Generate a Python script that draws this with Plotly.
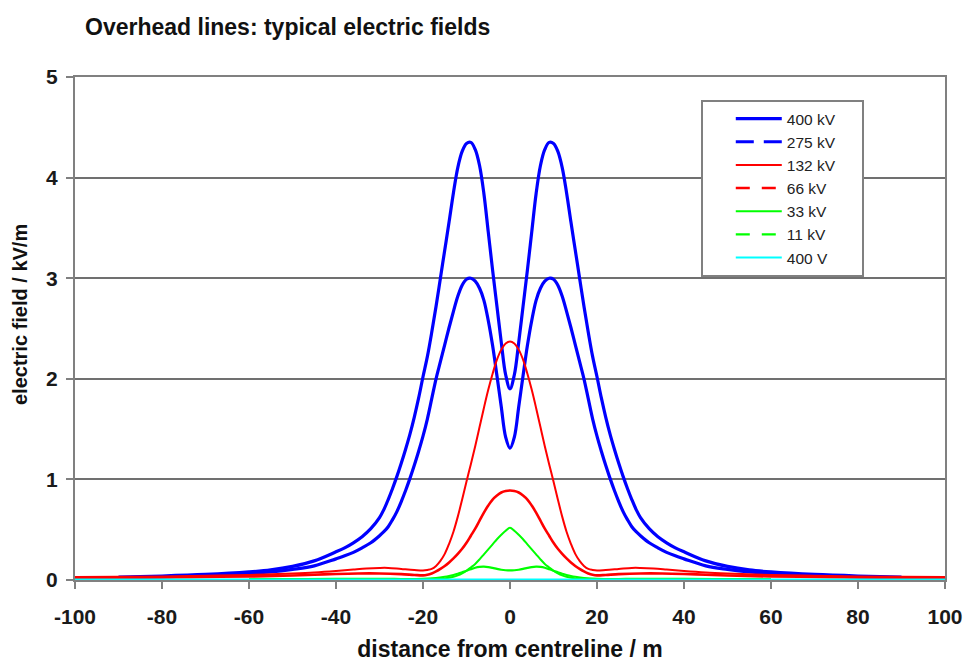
import plotly.graph_objects as go

# ---- data ----
x_hv = [-90, -80, -70, -60, -55, -50, -45, -40, -38, -36, -34, -32, -30, -29, -28, -27, -26, -25, -24, -23, -22, -21,
        -20, -19, -18, -17, -16, -15, -14, -13, -12, -11, -10, -9, -8, -7, -6, -5, -4, -3, -2, -1,
        0, 1, 2, 3, 4, 5, 6, 7, 8, 9, 10, 11, 12, 13, 14, 15, 16, 17, 18, 19, 20,
        21, 22, 23, 24, 25, 26, 27, 28, 29, 30, 32, 34, 36, 38, 40, 45, 50, 55, 60, 70, 80, 90]
e_400kv = [0.03, 0.04, 0.055, 0.08, 0.10, 0.135, 0.19, 0.28, 0.32, 0.37, 0.43, 0.51, 0.62, 0.70, 0.80, 0.91, 1.03, 1.16, 1.30, 1.45, 1.62, 1.81,
           2.02, 2.22, 2.46, 2.72, 3.00, 3.28, 3.56, 3.85, 4.10, 4.26, 4.34, 4.35, 4.28, 4.12, 3.84, 3.46, 3.08, 2.72, 2.36, 2.04,
           1.90, 2.04, 2.36, 2.72, 3.08, 3.46, 3.84, 4.12, 4.28, 4.35, 4.34, 4.26, 4.10, 3.85, 3.56, 3.28, 3.00, 2.72, 2.46, 2.22, 2.02,
           1.81, 1.62, 1.45, 1.30, 1.16, 1.03, 0.91, 0.80, 0.70, 0.62, 0.51, 0.43, 0.37, 0.32, 0.28, 0.19, 0.135, 0.10, 0.08, 0.055, 0.04, 0.03]
e_275kv = [0.022, 0.032, 0.045, 0.066, 0.08, 0.105, 0.14, 0.21, 0.24, 0.275, 0.32, 0.37, 0.44, 0.48, 0.53, 0.60, 0.68, 0.78, 0.89, 1.01, 1.14, 1.28,
           1.43, 1.60, 1.80, 2.00, 2.17, 2.34, 2.51, 2.67, 2.82, 2.93, 2.99, 3.00, 2.97, 2.90, 2.78, 2.58, 2.33, 2.03, 1.72, 1.42,
           1.31, 1.42, 1.72, 2.03, 2.33, 2.58, 2.78, 2.90, 2.97, 3.00, 2.99, 2.93, 2.82, 2.67, 2.51, 2.34, 2.17, 2.00, 1.80, 1.60, 1.43,
           1.28, 1.14, 1.01, 0.89, 0.78, 0.68, 0.60, 0.53, 0.48, 0.44, 0.37, 0.32, 0.275, 0.24, 0.21, 0.14, 0.105, 0.08, 0.066, 0.045, 0.032, 0.022]

x_132 = [-100, -90, -80, -70, -60, -50, -45, -40, -36, -33, -30, -28, -25, -22,
         -20, -19, -18, -17, -16, -15, -14, -13, -12, -11, -10, -9, -8, -7, -6, -5, -4, -3, -2, -1,
         0, 1, 2, 3, 4, 5, 6, 7, 8, 9, 10, 11, 12, 13, 14, 15, 16, 17, 18, 19, 20,
         22, 25, 28, 30, 33, 36, 40, 45, 50, 60, 70, 80, 90, 100]
e_132kv = [0.03, 0.032, 0.036, 0.042, 0.05, 0.065, 0.075, 0.09, 0.105, 0.115, 0.12, 0.12, 0.11, 0.10,
           0.095, 0.10, 0.11, 0.14, 0.19, 0.26, 0.36, 0.48, 0.63, 0.80, 0.98, 1.15, 1.33, 1.52, 1.71, 1.89, 2.05, 2.19, 2.29, 2.35,
           2.37, 2.35, 2.29, 2.19, 2.05, 1.89, 1.71, 1.52, 1.33, 1.15, 0.98, 0.80, 0.63, 0.48, 0.36, 0.26, 0.19, 0.14, 0.11, 0.10, 0.095,
           0.10, 0.11, 0.12, 0.12, 0.115, 0.105, 0.09, 0.075, 0.065, 0.05, 0.042, 0.036, 0.032, 0.03]

x_66 = [-100, -90, -80, -70, -60, -50, -45, -40, -35, -30, -25, -22,
        -20, -19, -18, -17, -16, -15, -14, -13, -12, -11, -10, -9, -8, -7, -6, -5, -4, -3, -2, -1,
        0, 1, 2, 3, 4, 5, 6, 7, 8, 9, 10, 11, 12, 13, 14, 15, 16, 17, 18, 19, 20,
        22, 25, 30, 35, 40, 45, 50, 60, 70, 80, 90, 100]
e_66kv = [0.02, 0.022, 0.025, 0.03, 0.035, 0.045, 0.052, 0.06, 0.065, 0.065, 0.058, 0.05,
          0.046, 0.052, 0.065, 0.085, 0.11, 0.14, 0.175, 0.215, 0.26, 0.31, 0.37, 0.44, 0.51, 0.59, 0.67, 0.74, 0.80, 0.84, 0.87, 0.885,
          0.89, 0.885, 0.87, 0.84, 0.80, 0.74, 0.67, 0.59, 0.51, 0.44, 0.37, 0.31, 0.26, 0.215, 0.175, 0.14, 0.11, 0.085, 0.065, 0.052, 0.046,
          0.05, 0.058, 0.065, 0.065, 0.06, 0.052, 0.045, 0.035, 0.03, 0.025, 0.022, 0.02]

x_mv = [-60, -50, -40, -30, -25, -20, -17, -15, -14, -13, -12, -11, -10, -9, -8, -7, -6, -5, -4, -3, -2, -1,
        0, 1, 2, 3, 4, 5, 6, 7, 8, 9, 10, 11, 12, 13, 14, 15, 17, 20, 25, 30, 40, 50, 60]
e_33kv = [0.008, 0.01, 0.012, 0.012, 0.011, 0.01, 0.012, 0.016, 0.022, 0.032, 0.046, 0.066, 0.092, 0.125, 0.16, 0.205, 0.255, 0.305, 0.355, 0.405, 0.45, 0.49,
          0.52, 0.49, 0.45, 0.405, 0.355, 0.305, 0.255, 0.205, 0.16, 0.125, 0.092, 0.066, 0.046, 0.032, 0.022, 0.016, 0.012, 0.01, 0.011, 0.012, 0.012, 0.01, 0.008]
e_11kv = [0.007, 0.008, 0.009, 0.01, 0.01, 0.012, 0.02, 0.032, 0.04, 0.05, 0.062, 0.077, 0.092, 0.108, 0.122, 0.13, 0.132, 0.128, 0.12, 0.11, 0.102, 0.097,
          0.095, 0.097, 0.102, 0.11, 0.12, 0.128, 0.132, 0.13, 0.122, 0.108, 0.092, 0.077, 0.062, 0.05, 0.04, 0.032, 0.02, 0.012, 0.01, 0.01, 0.009, 0.008, 0.007]

x_lv = [-100, -50, 0, 50, 100]
e_400v = [0.005, 0.005, 0.005, 0.005, 0.005]

series_names = ["400 kV", "275 kV", "132 kV", "66 kV", "33 kV", "11 kV", "400 V"]
x_ticks = [-100, -80, -60, -40, -20, 0, 20, 40, 60, 80, 100]
x_tick_labels = ["-100", "-80", "-60", "-40", "-20", "0", "20", "40", "60", "80", "100"]
y_ticks = [0, 1, 2, 3, 4, 5]

FONT = "Liberation Sans, Arial, sans-serif"
BLUE, RED, GREEN, CYAN = "#0000FF", "#FF0000", "#00FF00", "#00FFFF"

specs = [
    (x_hv, e_400kv, BLUE, 3.2, "solid"),
    (x_hv, e_275kv, BLUE, 3.2, "18px,10px"),
    (x_132, e_132kv, RED, 2.0, "solid"),
    (x_66, e_66kv, RED, 2.6, "14px,12px"),
    (x_mv, e_33kv, GREEN, 2.0, "solid"),
    (x_mv, e_11kv, GREEN, 2.2, "14px,12px"),
    (x_lv, e_400v, CYAN, 2.0, "solid"),
]

NBSP = "\u00a0"
fig = go.Figure()
# curves (drawn solid, as the dense data points render in the reference)
for name, (xs, ys, col, w, dash) in zip(series_names, specs):
    fig.add_trace(go.Scatter(x=xs, y=ys, mode="lines", name=name, showlegend=False,
                             line=dict(color=col, width=w, shape="spline", smoothing=1.0)))
# legend entries with the reference's legend line styles
for name, (xs, ys, col, w, dash) in zip(series_names, specs):
    fig.add_trace(go.Scatter(x=[None], y=[None], mode="lines", name=name + NBSP * 5,
                             line=dict(color=col, width=w, dash=dash)))

axis_common = dict(showline=True, linecolor="#808080", linewidth=2, mirror=True, automargin=False,
                   showgrid=False, zeroline=False, ticks="outside", ticklen=7, tickwidth=2,
                   tickcolor="#808080",
                   tickfont=dict(family=FONT, size=21, color="#1a1a1a", weight="bold"))

fig.update_layout(
    width=965, height=662,
    margin=dict(l=75, r=20, t=77, b=82),
    paper_bgcolor="white", plot_bgcolor="white",
    title=dict(text="Overhead lines: typical electric fields", x=85/965, xref="container",
               xanchor="left", y=1-27/662, yref="container", yanchor="middle",
               font=dict(family=FONT, size=23, color="#111111", weight="bold")),
    xaxis=dict(axis_common, range=[-100, 100], tickvals=x_ticks, ticktext=x_tick_labels,
               ticklabelstandoff=10,
               title=dict(text="distance from centreline / m", standoff=17,
                          font=dict(family=FONT, size=23, color="#111111", weight="bold"))),
    yaxis=dict(axis_common, range=[0, 5], tickvals=y_ticks, ticklabelstandoff=4,
               showgrid=True, gridcolor="#707070", gridwidth=2),
    annotations=[dict(text="electric field / kV/m", textangle=-90, xref="paper", yref="paper",
                      x=(20-75)/870, y=(580-315)/503, xanchor="center", yanchor="middle",
                      showarrow=False,
                      font=dict(family=FONT, size=20, color="#111111", weight="bold"))],
    legend=dict(x=(701-75)/870, y=(580-100)/503, xanchor="left", yanchor="top",
                bgcolor="white", bordercolor="#808080", borderwidth=2,
                font=dict(family=FONT, size=15.5, color="#222222"),
                title=dict(text=NBSP * 4, side="left", font=dict(family=FONT, size=16)),
                itemwidth=46),
)

fig.write_html("out.html", config={"displayModeBar": False},
               post_script="document.body.style.margin='0px';")
